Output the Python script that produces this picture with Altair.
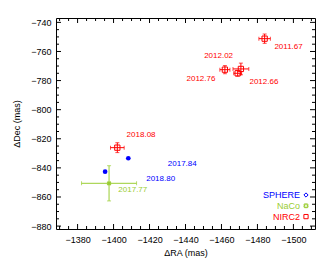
import altair as alt
import pandas as pd

# ---- data ----
inst = ["NIRC2", "NIRC2", "NIRC2", "NIRC2", "NIRC2", "SPHERE", "SPHERE", "NaCo"]
ra = [-1484.0, -1470.8, -1469.0, -1461.9, -1402.1, -1408.2, -1395.3, -1397.5]
dec = [-751.2, -772.0, -775.0, -772.5, -826.1, -833.4, -842.6, -850.6]
ra_err = [3.2, 4.4, 2.2, 2.8, 3.8, 0.0, 0.0, 15.3]
dec_err = [3.2, 4.0, 2.0, 2.8, 3.4, 0.0, 0.0, 12.1]

epochs = ["2011.67", "2012.02", "2012.76", "2012.66", "2018.08", "2017.84", "2018.80", "2017.77"]
label_inst = ["NIRC2", "NIRC2", "NIRC2", "NIRC2", "NIRC2", "SPHERE", "SPHERE", "NaCo"]
label_ra = [-1497.3, -1458.4, -1448.6, -1483.6, -1415.3, -1438.2, -1426.2, -1410.7]
label_dec = [-756.8, -763.0, -778.7, -780.7, -817.4, -837.3, -847.4, -855.2]

instruments = ["SPHERE", "NaCo", "NIRC2"]
inst_colors = ["#0000ff", "#9acd32", "#ff0000"]

x_major = [-1380, -1400, -1420, -1440, -1460, -1480, -1500]
x_minor = [v for v in range(-1370, -1515, -5) if v % 20 != 0]
y_major = [-740, -760, -780, -800, -820, -840, -860, -880]
y_minor = [v for v in range(-740, -885, -5) if v % 20 != 0]

W, H = 259, 211
FONT = "Liberation Sans"

pts = pd.DataFrame({"inst": inst, "ra": ra, "dec": dec, "ra_err": ra_err, "dec_err": dec_err})
labels = pd.DataFrame({"epoch": epochs, "inst": label_inst, "ra": label_ra, "dec": label_dec})

xs = alt.Scale(domain=[-1368, -1512], nice=False, zero=False)
ys = alt.Scale(domain=[-882, -737], nice=False, zero=False)
cs = alt.Scale(domain=instruments, range=inst_colors)

xaxis = alt.Axis(values=x_major, format="d", ticks=False, domain=False, grid=False,
                 labelFont=FONT, labelFontSize=9, labelColor="black", labelPadding=6,
                 labelOverlap=False, labelFlush=False,
                 title="ΔRA (mas)", titleFont=FONT, titleFontSize=9, titleFontWeight="normal",
                 titleColor="black", titlePadding=4)
yaxis = alt.Axis(values=y_major, format="d", ticks=False, domain=False, grid=False,
                 labelFont=FONT, labelFontSize=9, labelColor="black", labelPadding=5,
                 labelOverlap=False, labelFlush=False,
                 title="ΔDec (mas)", titleFont=FONT, titleFontSize=9, titleFontWeight="normal",
                 titleColor="black", titlePadding=9)


def X(f):
    return alt.X(f, scale=xs, axis=xaxis)


def Y(f):
    return alt.Y(f, scale=ys, axis=yaxis)


base = alt.Chart(pts)
err = base.transform_filter("datum.ra_err > 0").transform_calculate(
    xlo="datum.ra - datum.ra_err", xhi="datum.ra + datum.ra_err",
    ylo="datum.dec - datum.dec_err", yhi="datum.dec + datum.dec_err")
col = alt.Color("inst:N", scale=cs, legend=None)

xbar = err.mark_rule(strokeWidth=1).encode(x=X("xlo:Q"), x2="xhi:Q", y=Y("dec:Q"), color=col)
ybar = err.mark_rule(strokeWidth=1).encode(x=X("ra:Q"), y=Y("ylo:Q"), y2="yhi:Q", color=col)
caps = []
for f in ["xlo", "xhi"]:
    caps.append(err.mark_tick(orient="vertical", size=4, thickness=1).encode(
        x=X(f + ":Q"), y=Y("dec:Q"), color=col))
for f in ["ylo", "yhi"]:
    caps.append(err.mark_tick(orient="horizontal", size=4, thickness=1).encode(
        x=X("ra:Q"), y=Y(f + ":Q"), color=col))

nirc2 = base.transform_filter("datum.inst == 'NIRC2'").mark_point(
    shape="square", size=28, filled=False, strokeWidth=1, opacity=1).encode(
    x=X("ra:Q"), y=Y("dec:Q"), color=col)
sphere = base.transform_filter("datum.inst == 'SPHERE'").mark_point(
    shape="circle", size=22, filled=True, opacity=1).encode(
    x=X("ra:Q"), y=Y("dec:Q"), color=col)
naco = base.transform_filter("datum.inst == 'NaCo'").mark_point(
    shape="cross", angle=45, size=22, filled=True, opacity=1).encode(
    x=X("ra:Q"), y=Y("dec:Q"), color=col)

txt = alt.Chart(labels).mark_text(font=FONT, fontSize=8, align="center", baseline="middle").encode(
    x=X("ra:Q"), y=Y("dec:Q"), text="epoch:N", color=col)


# inward ticks on all four sides
def xticks(vals, length):
    d = alt.Chart(pd.DataFrame({"v": vals}))
    bot = d.mark_rule(color="black", strokeWidth=1).encode(
        x=X("v:Q"), y=alt.value(H), y2=alt.value(H - length))
    top = d.mark_rule(color="black", strokeWidth=1).encode(
        x=X("v:Q"), y=alt.value(0), y2=alt.value(length))
    return [bot, top]


def yticks(vals, length):
    d = alt.Chart(pd.DataFrame({"v": vals}))
    lft = d.mark_rule(color="black", strokeWidth=1).encode(
        y=Y("v:Q"), x=alt.value(0), x2=alt.value(length))
    rgt = d.mark_rule(color="black", strokeWidth=1).encode(
        y=Y("v:Q"), x=alt.value(W), x2=alt.value(W - length))
    return [lft, rgt]


tick_layers = xticks(x_major, 5) + xticks(x_minor, 3) + yticks(y_major, 5) + yticks(y_minor, 3)

# legend (text right, symbol at right)
leg_shapes = ["diamond", "cross", "square"]
leg_angles = [0, 45, 0]
leg_layers = []
for i, name in enumerate(instruments):
    ld = alt.Chart(pd.DataFrame({"inst": [name]}))
    yy = H - 34 + i * 10.8
    leg_layers.append(ld.mark_text(font=FONT, fontSize=9, align="right", baseline="middle").encode(
        x=alt.value(W - 15), y=alt.value(yy), text="inst:N", color=col))
    leg_layers.append(ld.mark_point(shape=leg_shapes[i], angle=leg_angles[i], size=18,
                                    filled=False, strokeWidth=1, opacity=1).encode(
        x=alt.value(W - 9), y=alt.value(yy), color=col))

chart = alt.layer(xbar, ybar, *caps, nirc2, sphere, naco, txt, *tick_layers, *leg_layers).properties(
    width=W, height=H,
    autosize=alt.AutoSizeParams(type="none"),
    padding={"left": 48, "top": 10, "right": 9, "bottom": 32},
    background="white",
).configure_view(stroke="black", strokeWidth=1)

chart.save("out.html", embed_options={"renderer": "svg", "actions": False})
